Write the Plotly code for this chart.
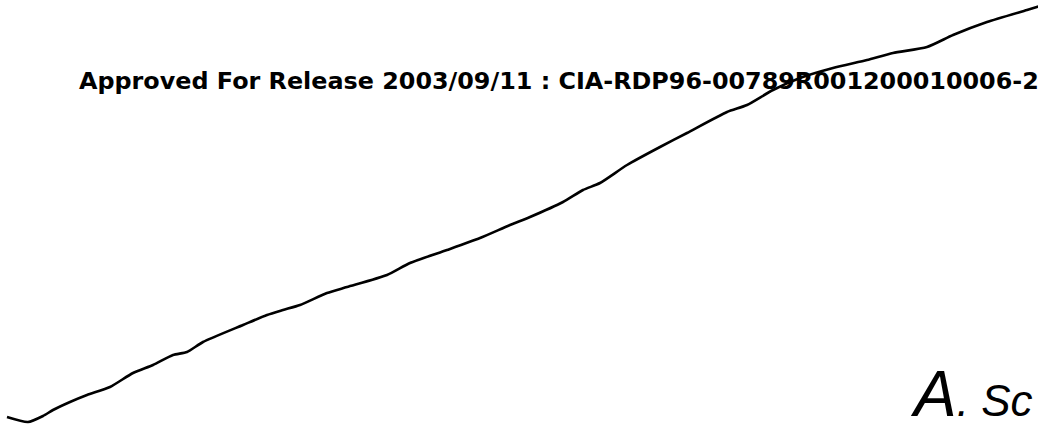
import plotly.graph_objects as go

# Hand-drawn curve traced from the scanned page (page pixel coordinates)
curve_x = [7, 28, 43, 53, 70, 87, 110, 133, 153, 173, 187, 203, 243, 267, 283, 300,
           327, 347, 387, 410, 447, 480, 510, 530, 563, 583, 600, 627, 660, 687, 727,
           747, 773, 800, 833, 867, 893, 927, 953, 987, 1027, 1040]
curve_y = [417, 422, 416, 410, 402, 395, 387, 373, 365, 355, 352, 342, 325, 315, 310, 305,
           293, 287, 275, 263, 250, 238, 225, 217, 202, 190, 183, 165, 147, 133, 112,
           105, 90, 78, 68, 60, 53, 47, 35, 22, 10, 6]

header_text = "Approved For Release 2003/09/11 : CIA-RDP96-00789R001200010006-2"
handwriting = "A. Sc"

fig = go.Figure()
fig.add_trace(go.Scatter(x=curve_x, y=curve_y, mode="lines",
                         line=dict(color="black", width=2.6, shape="spline", smoothing=0.6),
                         hoverinfo="skip", showlegend=False))

fig.add_annotation(x=77, y=81, xref="x", yref="y", text=header_text,
                   showarrow=False, xanchor="left", yanchor="middle",
                   font=dict(family="DejaVu Sans", size=23.85, color="black", weight="bold"))

fig.add_annotation(x=908, y=394, xref="x", yref="y",
                   text="<i>" + handwriting[0] + "</i><span style='font-size:44px'><i>"
                        + handwriting[1:] + "</i></span>",
                   showarrow=False, xanchor="left", yanchor="middle",
                   font=dict(family="Liberation Sans", size=64, color="black"))

fig.update_layout(width=1038, height=434, margin=dict(l=0, r=0, t=0, b=0),
                  paper_bgcolor="white", plot_bgcolor="white", hovermode=False)
fig.update_xaxes(range=[0, 1038], visible=False, fixedrange=True)
fig.update_yaxes(range=[434, 0], visible=False, fixedrange=True)

fig.write_html("out.html", config={"displayModeBar": False},
               post_script="document.body.style.margin='0';")
